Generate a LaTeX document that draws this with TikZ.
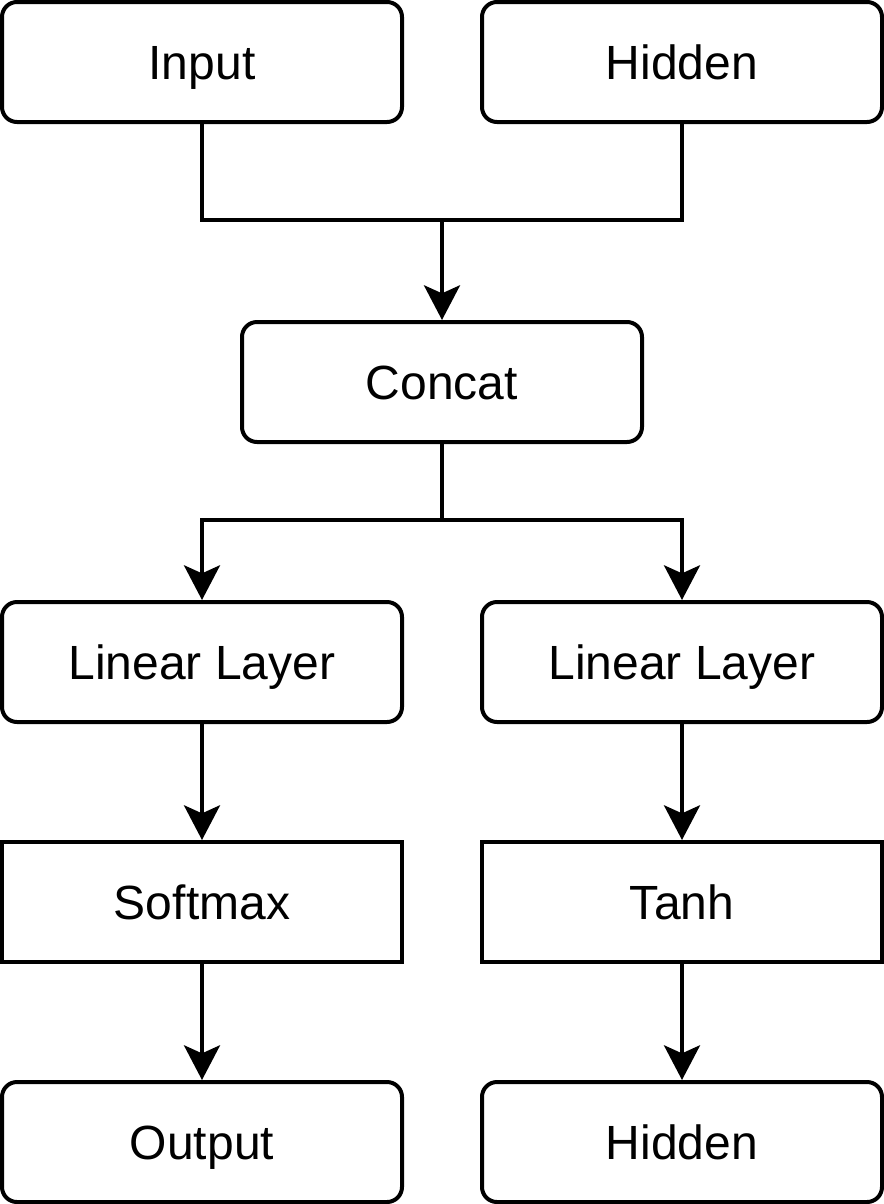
\documentclass[tikz,border=0pt]{standalone}
\usepackage{fontspec}
\setmainfont{Liberation Sans}
\usetikzlibrary{arrows.meta}

\tikzset{every picture/.style={line width=3pt}}
\tikzset{
  roundbox/.style={draw, rounded corners=11.25pt, minimum width=300pt, minimum height=90pt, inner sep=0pt, text height=25.8pt, text depth=0pt, font=\fontsize{36}{43}\selectfont},
  sharpbox/.style={roundbox, sharp corners},
  flow/.style={-{Stealth[length=26pt, width=27pt, inset=6pt]}}
}

\begin{document}
\begin{tikzpicture}[x=0.75pt,y=0.75pt,yscale=-1,xscale=1]
\useasboundingbox (0,0) rectangle (884,1204);

%Shape: Rounded Rect
\node [roundbox] (input) at (202,62) {Input};
\node [roundbox] (hidden) at (682,62) {Hidden};
\node [roundbox] (concat) at (442,382) {Concat};
\node [roundbox] (linearL) at (202,662) {Linear Layer};
\node [roundbox] (linearR) at (682,662) {Linear Layer};
%Shape: Rectangle
\node [sharpbox] (softmax) at (202,902) {Softmax};
\node [sharpbox] (tanh) at (682,902) {Tanh};
%Shape: Rounded Rect
\node [roundbox] (output) at (202,1142) {Output};
\node [roundbox] (hiddenOut) at (682,1142) {Hidden};

%Connectors
\coordinate (join) at (442,220);
\coordinate (split) at (442,520);
\draw (input.south) |- (join) -| (hidden.south);
\draw [flow] (join) -- (concat.north);
\draw (concat.south) -- (split);
\draw [flow] (split) -| (linearL.north);
\draw [flow] (split) -| (linearR.north);
\draw [flow] (linearL) -- (softmax);
\draw [flow] (linearR) -- (tanh);
\draw [flow] (softmax) -- (output);
\draw [flow] (tanh) -- (hiddenOut);

\end{tikzpicture}
\end{document}
